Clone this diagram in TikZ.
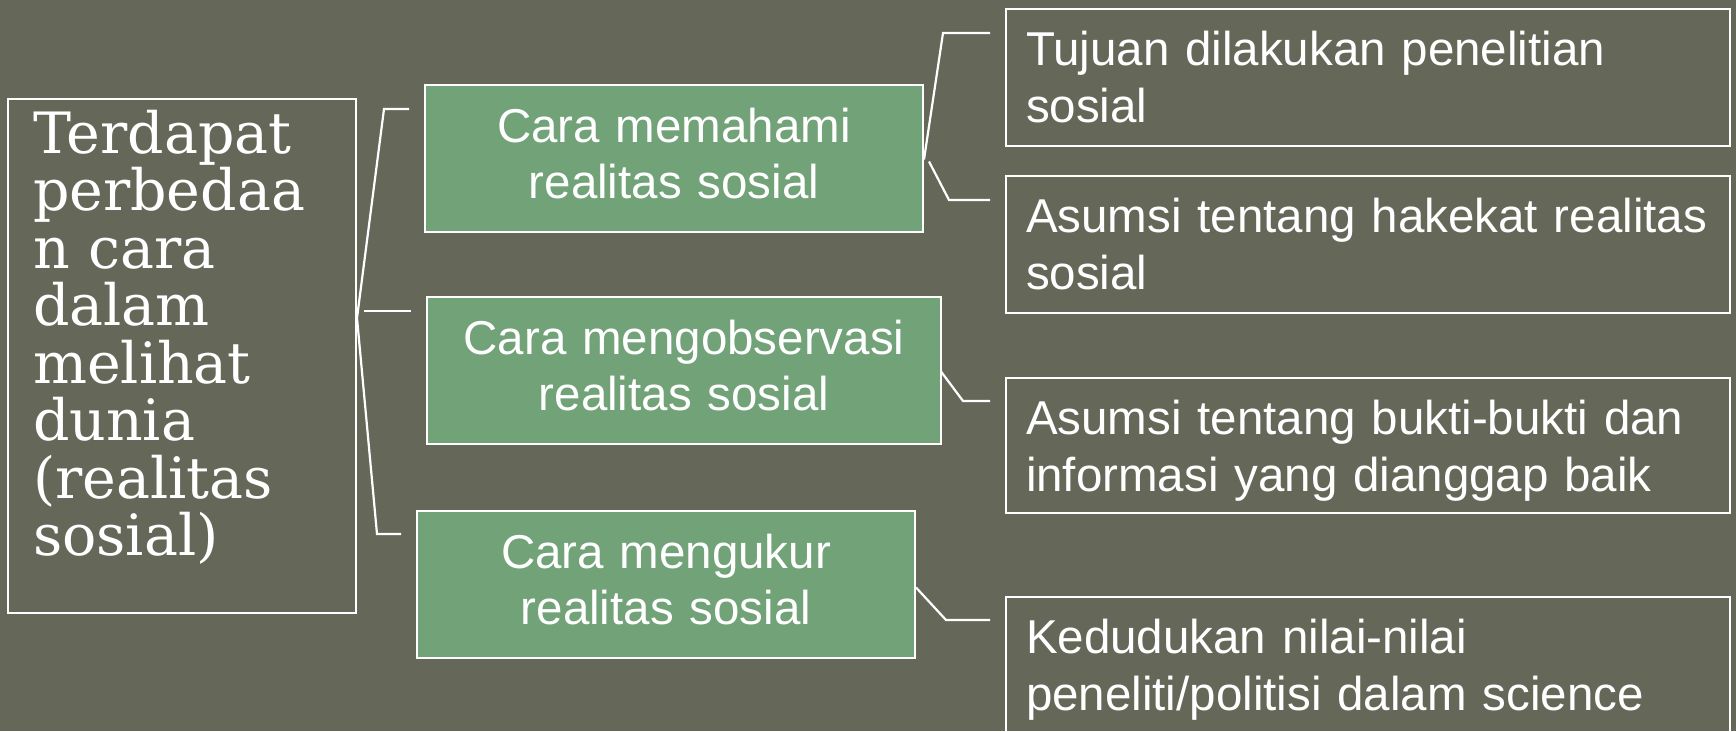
\documentclass[tikz,border=0pt]{standalone}
\usepackage{fontspec}
\setmainfont{Liberation Sans}
\newfontfamily\slabfont{DejaVu Serif}
\usetikzlibrary{calc}
\definecolor{bg}{RGB}{101,104,89}
\definecolor{boxgreen}{RGB}{113,162,120}
\begin{document}
\begin{tikzpicture}[x=1pt,y=-1pt,
  every node/.style={text=white, outer sep=0pt},
  base/.style={draw=white, line width=2.5pt, inner ysep=0pt, anchor=north west},
  rbox/.style={base, inner xsep=20pt, text width=684pt, align=left,
    font=\fontsize{47.5}{57}\selectfont, text height=56.5pt, text depth=80.5pt},
  gbox/.style={base, fill=boxgreen, inner xsep=10pt, align=center,
    font=\fontsize{47.5}{56}\selectfont, text height=57pt, text depth=90pt},
  link/.style={draw=white, line width=2.2pt}]
\fill[bg] (0,0) rectangle (1736,731);
\useasboundingbox (0,0) rectangle (1736,731);
\clip (0,0) rectangle (1736,731);

% left box
\node[base, inner xsep=25pt, text width=298pt, align=left,
  font=\slabfont\fontsize{57}{57.5}\selectfont, text height=54pt, text depth=460pt]
  (L) at (8,99) {Terdapat\\perbedaa\\n cara\\dalam\\melihat\\dunia\\(realitas\\sosial)};

% green boxes
\node[gbox, text width=478pt] (G1) at (425,85) {Cara memahami\\realitas sosial};
\node[gbox, text width=494pt] (G2) at (427,297) {Cara mengobservasi\\realitas sosial};
\node[gbox, text width=478pt] (G3) at (417,511) {Cara mengukur\\realitas sosial};

% right boxes
\node[rbox] (A) at (1006,9) {Tujuan dilakukan penelitian\\sosial};
\node[rbox] (B) at (1006,176) {Asumsi tentang hakekat realitas\\sosial};
\node[rbox, text depth=78.5pt] (C) at (1006,378) {Asumsi tentang bukti-bukti dan\\informasi yang dianggap baik};
\node[rbox] (D) at (1006,597) {Kedudukan nilai-nilai\\peneliti/politisi dalam science};

% left bracket
\coordinate (v) at ($(L.north east)+(1,219)$);
\draw[link] (v) -- ($(G1.north west)+(-41,24)$) -- ($(G1.north west)+(-16,24)$);
\draw[link] ($(v)+(7,-7)$) -- ($(G2.north west)+(-16,14)$);
\draw[link] (v) -- ($(G3.north west)+(-40,23)$) -- ($(G3.north west)+(-16,23)$);

% right connectors
\draw[link] ($(G1.east)+(1,1)$) -- ($(A.north west)+(-63,24)$) -- ($(A.north west)+(-16,24)$);
\draw[link] ($(G1.east)+(6,3)$) -- ($(B.north west)+(-57,24)$) -- ($(B.north west)+(-16,24)$);
\draw[link] ($(G2.east)+(0,1)$) -- ($(C.north west)+(-43,23)$) -- ($(C.north west)+(-16,23)$);
\draw[link] ($(G3.east)+(1,3)$) -- ($(D.north west)+(-60,23)$) -- ($(D.north west)+(-16,23)$);
\end{tikzpicture}
\end{document}
